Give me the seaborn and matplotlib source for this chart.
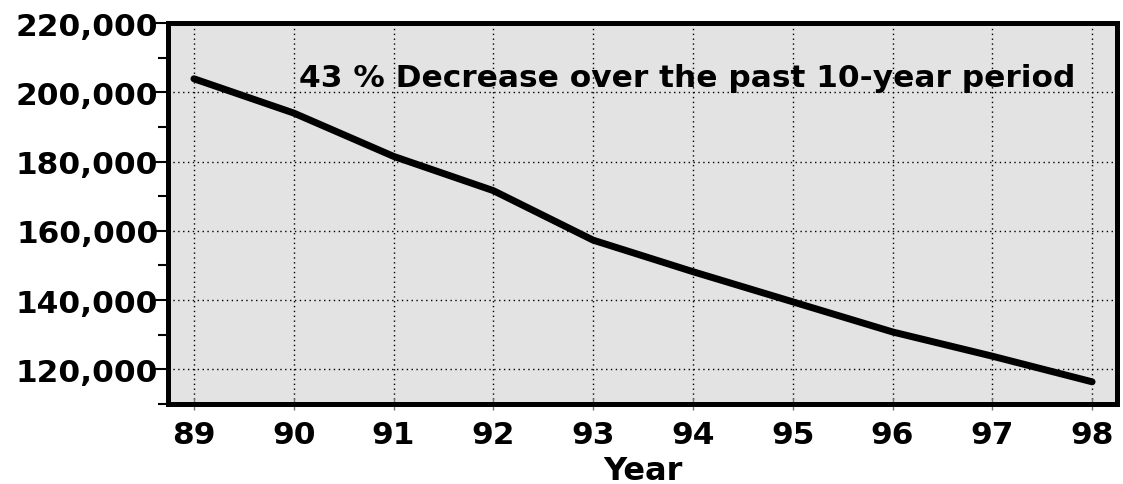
import pandas as pd
import seaborn as sns
import matplotlib.pyplot as plt
from matplotlib.ticker import MultipleLocator, FuncFormatter

years = [89, 90, 91, 92, 93, 94, 95, 96, 97, 98]
values = [203900, 194000, 181500, 171600, 157300, 148200, 139500, 130800, 123800, 116400]
year_labels = ['89', '90', '91', '92', '93', '94', '95', '96', '97', '98']
note = '43 % Decrease over the past 10-year period'

df = pd.DataFrame({'Year': years, 'Value': values})

sns.set_style('white')
plt.rcParams['font.family'] = ['DejaVu Sans']
plt.rcParams['font.weight'] = 'bold'
plt.rcParams['text.color'] = 'black'
plt.rcParams['axes.labelcolor'] = 'black'
plt.rcParams['xtick.labelcolor'] = 'black'
plt.rcParams['ytick.labelcolor'] = 'black'

fig = plt.figure(figsize=(11.23, 4.85), dpi=100)
ax = fig.add_axes([0.1496, 0.165, 0.8451, 0.7855])
ax.set_facecolor('#e3e3e3')

sns.lineplot(x='Year', y='Value', data=df, ax=ax, color='black', linewidth=5,
             solid_capstyle='round', solid_joinstyle='round')

ax.set_xlim(88.74, 98.25)
ax.set_ylim(110000, 220000)
ax.set_xticks(years)
ax.set_xticklabels(year_labels)
ax.yaxis.set_major_locator(MultipleLocator(20000))
ax.yaxis.set_minor_locator(MultipleLocator(10000))
ax.yaxis.set_major_formatter(FuncFormatter(lambda v, p: '{:,.0f}'.format(v)))

ax.grid(True, which='major', color='black', linestyle=(0, (1, 2.5)), linewidth=1)
for s in ax.spines.values():
    s.set_linewidth(3.6)
    s.set_color('black')
    s.set_visible(True)

ax.tick_params(axis='y', which='major', direction='out', length=12, width=1.5,
               color='black', pad=-5, labelsize=22.5, labelcolor='black', left=True)
ax.tick_params(axis='y', which='minor', direction='out', length=7, width=1.5,
               color='black', left=True)
ax.tick_params(axis='x', which='major', direction='inout', length=9, width=1,
               color='#777777', pad=7, labelsize=22.5, labelcolor='black', bottom=True)
for t in ax.get_xticklabels() + ax.get_yticklabels():
    t.set_fontweight('bold')

ax.set_xlabel('Year', fontsize=23, fontweight='bold', color='black', labelpad=4)
ax.set_ylabel('')

ax.text(90.05, 201900, note, fontsize=22.5, fontweight='bold', color='black',
        ha='left', va='baseline')

fig.savefig('out.png', dpi=100)
